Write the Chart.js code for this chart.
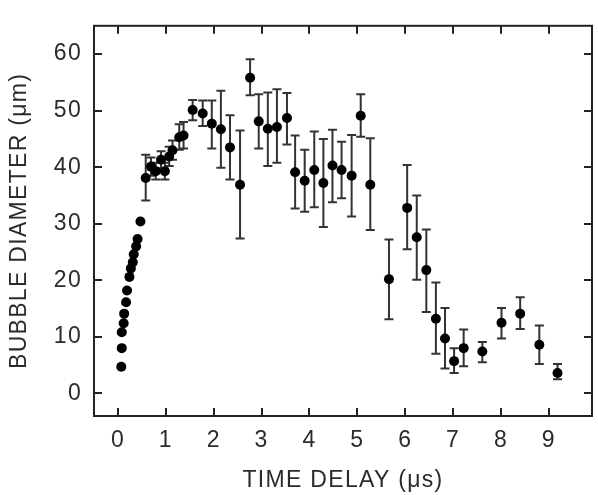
<!DOCTYPE html>
<html>
<head>
<meta charset="utf-8">
<script src="https://cdn.jsdelivr.net/npm/chart.js@4/dist/chart.umd.min.js"></script>
<style>
  html, body { margin: 0; padding: 0; background: #fff; }
  #wrap { width: 598px; height: 495px; }
</style>
</head>
<body>
<div id="wrap"><canvas id="c" width="598" height="495"></canvas></div>
<script>
// Time delay (µs)
const timeDelay = [0.07, 0.08, 0.08, 0.12, 0.13, 0.17, 0.19, 0.24, 0.27, 0.31, 0.33, 0.38, 0.41, 0.47,
  0.58, 0.69, 0.79, 0.90, 0.98, 1.07, 1.14, 1.28, 1.37, 1.56, 1.77, 1.96, 2.15, 2.34, 2.55,
  2.76, 2.94, 3.13, 3.32, 3.53, 3.70, 3.90, 4.10, 4.29, 4.48, 4.67, 4.88, 5.07, 5.27,
  5.66, 6.04, 6.24, 6.44, 6.64, 6.83, 7.02, 7.22, 7.61, 8.01, 8.40, 8.80, 9.18];
// Bubble diameter (µm)
const diameter = [4.7, 8.0, 10.8, 12.4, 14.1, 16.1, 18.2, 20.6, 22.1, 23.2, 24.6, 26.0, 27.3, 30.4,
  38.1, 40.1, 39.3, 41.3, 39.3, 41.9, 43.0, 45.3, 45.6, 50.1, 49.5, 47.7, 46.7, 43.5, 36.9,
  55.8, 48.1, 46.8, 47.1, 48.7, 39.1, 37.6, 39.5, 37.2, 40.3, 39.5, 38.5, 49.1, 36.9,
  20.2, 32.8, 27.6, 21.8, 13.2, 9.7, 5.7, 8.0, 7.4, 12.5, 14.1, 8.6, 3.6];
// Error bar lower ends (null = no bar)
const errLow = [null, null, null, null, null, null, null, null, null, null, null, null, null, null,
  34.1, 38.5, 37.8, 39.8, 37.8, 40.2, 41.3, 43.1, 43.3, 48.3, 47.3, 43.3, 39.9, 37.8, 27.4,
  52.7, 43.3, 40.2, 40.8, 44.0, 32.7, 32.1, 32.9, 29.4, 33.8, 34.5, 31.3, 45.4, 28.9,
  13.1, 25.5, 20.1, 14.4, 7.0, 4.4, 3.6, 4.8, 5.5, 9.7, 11.4, 5.2, 2.5];
// Error bar upper ends
const errHigh = [null, null, null, null, null, null, null, null, null, null, null, null, null, null,
  42.2, 41.7, 40.8, 42.8, 40.8, 43.6, 44.7, 47.6, 48.0, 51.9, 51.8, 51.8, 53.5, 49.2, 46.5,
  59.1, 52.9, 53.2, 53.8, 53.1, 45.6, 43.1, 46.3, 45.0, 46.6, 44.5, 45.7, 52.9, 45.1,
  27.2, 40.4, 35.0, 29.0, 19.6, 15.1, 8.0, 11.3, 9.1, 15.1, 17.0, 12.0, 5.2];
const xTicks = [0, 1, 2, 3, 4, 5, 6, 7, 8, 9];
const yTicks = [0, 10, 20, 30, 40, 50, 60];

const INK = '#222';
const TEXT = '#2b2b2b';
const FONT = { family: "'Liberation Sans', Arial, sans-serif", size: 23 };

const errorBarPlugin = {
  id: 'errorBars',
  beforeDatasetsDraw(chart) {
    const { ctx } = chart;
    const xs = chart.scales.x, ys = chart.scales.y;
    ctx.save();
    ctx.strokeStyle = '#333';
    ctx.lineWidth = 2;
    for (let i = 0; i < timeDelay.length; i++) {
      if (errLow[i] == null) continue;
      const px = xs.getPixelForValue(timeDelay[i]);
      const pLo = ys.getPixelForValue(errLow[i]);
      const pHi = ys.getPixelForValue(errHigh[i]);
      ctx.beginPath();
      ctx.moveTo(px, pLo); ctx.lineTo(px, pHi);
      ctx.moveTo(px - 4.5, pLo); ctx.lineTo(px + 4.5, pLo);
      ctx.moveTo(px - 4.5, pHi); ctx.lineTo(px + 4.5, pHi);
      ctx.stroke();
    }
    ctx.restore();
  }
};

const framePlugin = {
  id: 'frame',
  beforeDraw(chart) {
    chart.ctx.letterSpacing = '1.3px';
  },
  afterDraw(chart) {
    const { ctx, chartArea: a } = chart;
    const xs = chart.scales.x, ys = chart.scales.y;
    const L = 8;
    ctx.save();
    ctx.strokeStyle = INK;
    ctx.lineWidth = 2;
    ctx.strokeRect(a.left, a.top, a.right - a.left, a.bottom - a.top);
    ctx.beginPath();
    xTicks.forEach(v => {
      const p = Math.round(xs.getPixelForValue(v));
      ctx.moveTo(p, a.bottom); ctx.lineTo(p, a.bottom - L);
      ctx.moveTo(p, a.top); ctx.lineTo(p, a.top + L);
    });
    yTicks.forEach(v => {
      const p = Math.round(ys.getPixelForValue(v));
      ctx.moveTo(a.left, p); ctx.lineTo(a.left + L, p);
      ctx.moveTo(a.right, p); ctx.lineTo(a.right - L, p);
    });
    ctx.stroke();
    ctx.restore();
  }
};

new Chart(document.getElementById('c'), {
  type: 'scatter',
  data: {
    datasets: [{
      data: timeDelay.map((x, i) => ({ x, y: diameter[i] })),
      backgroundColor: '#000',
      borderColor: '#000',
      pointRadius: 5,
      pointBorderWidth: 0
    }]
  },
  options: {
    responsive: false,
    animation: false,
    devicePixelRatio: 1,
    layout: { padding: { top: 12, right: 6, bottom: 0, left: 0 } },
    plugins: { legend: { display: false }, tooltip: { enabled: false } },
    scales: {
      x: {
        type: 'linear', min: -0.5, max: 9.9,
        afterBuildTicks: s => { s.ticks = xTicks.map(v => ({ value: v })); },
        afterFit: s => { s.height = 79; },
        grid: { display: false, drawTicks: false },
        border: { display: false },
        ticks: { font: FONT, color: TEXT, padding: 11, maxRotation: 0, autoSkip: false },
        title: { display: true, text: 'TIME DELAY (\u03bcs)', font: FONT, color: TEXT, padding: { top: 0, bottom: 1 } }
      },
      y: {
        type: 'linear', min: -4, max: 65,
        afterBuildTicks: s => { s.ticks = yTicks.map(v => ({ value: v })); },
        afterFit: s => { s.width = 94; },
        grid: { display: false, drawTicks: false },
        border: { display: false },
        ticks: { font: FONT, color: TEXT, padding: 12, autoSkip: false },
        title: { display: true, text: 'BUBBLE DIAMETER (\u03bcm)', font: FONT, color: TEXT, padding: { top: 6, bottom: 0 } }
      }
    }
  },
  plugins: [errorBarPlugin, framePlugin]
});
</script>
</body>
</html>
